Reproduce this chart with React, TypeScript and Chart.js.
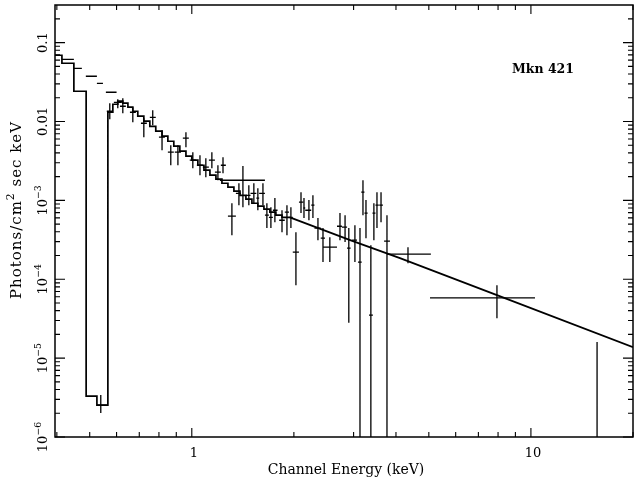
import React, { useEffect, useRef } from "react";
import { Chart, registerables } from "chart.js";

Chart.register(...registerables);

// ---- Axis ranges and tick labels ----
const xMin = 0.395;
const xMax = 20;
const yMin = 1e-6;
const yMax = 0.3;
const xTickValues = [1, 10];
const xTickLabels = ["1", "10"];
const yTickValues = [0.1, 0.01, 1e-3, 1e-4, 1e-5, 1e-6];
const yTickBase = ["0.1", "0.01", "10", "10", "10", "10"];
const yTickSup = ["", "", "\u22123", "\u22124", "\u22125", "\u22126"];

// ---- Folded model: stepped histogram (bin edges keV, values photons/cm^2/s/keV) ----
const modelEdges = [
  0.395, 0.414, 0.449, 0.488, 0.525, 0.5656, 0.585, 0.605, 0.626, 0.648, 0.67,
  0.693, 0.722, 0.752, 0.783, 0.817, 0.85, 0.885, 0.922, 0.961, 1.0, 1.042,
  1.086, 1.131, 1.178, 1.227, 1.278, 1.331, 1.387, 1.444, 1.504, 1.566, 1.632,
  1.699, 1.77, 1.845, 1.946,
];
const modelValues = [
  0.0692, 0.0548, 0.0242, 3.3e-6, 2.54e-6, 0.0131, 0.01656, 0.0181, 0.0171,
  0.0152, 0.0135, 0.0117, 0.0101, 0.0087, 0.00753, 0.00652, 0.00562, 0.00486,
  0.0042, 0.00363, 0.00324, 0.00279, 0.00242, 0.00209, 0.00186, 0.00165,
  0.00147, 0.00131, 0.00116, 0.00104, 0.00092, 0.000845, 0.000774, 0.00071,
  0.00065, 0.00061,
];
// high-energy part of the model (fine bins, drawn as a line)
const modelHiE = [1.946, 2.93, 4.11, 7.94, 20.0];
const modelHiF = [0.00061, 0.000313, 0.000185, 6.3e-5, 1.38e-5];

// ---- Horizontal-only data bins at low energy ----
const dashELo = [0.414, 0.449, 0.487, 0.525, 0.558];
const dashEHi = [0.449, 0.474, 0.525, 0.547, 0.6];
const dashF = [0.0615, 0.0473, 0.0375, 0.0305, 0.0235];

// ---- Data points with error bars ----
const dataE = [
  0.539, 0.573, 0.605, 0.626, 0.67, 0.722, 0.767, 0.817, 0.867, 0.91, 0.961,
  1.007, 1.057, 1.1, 1.146, 1.194, 1.236, 1.313, 1.415, 1.377, 1.473, 1.524,
  1.566, 1.621, 1.665, 1.711, 1.758, 1.845, 1.908, 1.96, 2.028, 2.099, 2.142,
  2.215, 2.276, 2.355, 2.437, 2.553, 2.735, 2.831, 2.904, 3.027, 3.133, 3.197,
  3.263, 3.373, 3.443, 3.516, 3.614, 3.763, 4.34, 7.94, 15.67,
];
const dataF = [
  2.54e-6, 0.0135, 0.0175, 0.0156, 0.0131, 0.0095, 0.0113, 0.00632, 0.00408,
  0.00408, 0.00614, 0.00324, 0.00279, 0.00264, 0.00324, 0.00228, 0.00279,
  0.00063, 0.0018, 0.00123, 0.00116, 0.00123, 0.00107, 0.00123, 0.00065,
  0.00061, 0.00075, 0.00056, 0.00071, 0.00061, 0.000221, 0.00095, 0.0008,
  0.00075, 0.00087, 0.000445, 0.000332, 0.000255, 0.00047, 0.000458, 0.000248,
  0.000313, 0.000165, 0.00127, 0.00069, 3.5e-5, 0.00069, 0.00087, 0.00087,
  0.000304, 0.000208, 5.8e-5, 5e-7,
];
const dataFLo = [
  2.01e-6, 0.0107, 0.0147, 0.0127, 0.0098, 0.00632, 0.00897, 0.00433, 0.00279,
  0.00279, 0.00472, 0.00256, 0.00209, 0.00197, 0.00256, 0.0018, 0.00221,
  0.000362, 0.00082, 0.00087, 0.00087, 0.00092, 0.00075, 0.00087, 0.000445,
  0.000445, 0.00053, 0.000395, 0.000362, 0.000445, 8.4e-5, 0.00069, 0.0006,
  0.00056, 0.0006, 0.000313, 0.000165, 0.000165, 0.000313, 0.000296, 2.8e-5,
  0.000165, 1e-7, 0.00065, 0.000332, 1e-7, 0.000313, 0.000445, 0.00053, 1e-7,
  0.00016, 3.2e-5, 1e-7,
];
const dataFHi = [
  3.4e-6, 0.0171, 0.0191, 0.0197, 0.0152, 0.011, 0.0139, 0.00776, 0.00501,
  0.00501, 0.00731, 0.00408, 0.00374, 0.00343, 0.00408, 0.00279, 0.00353,
  0.00092, 0.00272, 0.00165, 0.00156, 0.00165, 0.00143, 0.00165, 0.00092,
  0.00082, 0.00107, 0.00075, 0.00087, 0.00082, 0.000395, 0.00127, 0.00107,
  0.00101, 0.00116, 0.0006, 0.000445, 0.000342, 0.00069, 0.00065, 0.000445,
  0.000485, 0.000445, 0.0018, 0.00101, 0.00027, 0.00092, 0.00127, 0.00127,
  0.00065, 0.000255, 8.4e-5, 1.6e-5,
];
const dataELo = [
  0.525, 0.5615, 0.589, 0.614, 0.657, 0.708, 0.752, 0.8, 0.85, 0.891, 0.941,
  0.986, 1.035, 1.078, 1.123, 1.17, 1.218, 1.278, 1.21, 1.349, 1.444, 1.49,
  1.55, 1.58, 1.643, 1.688, 1.734, 1.81, 1.88, 1.935, 1.985, 2.07, 2.13, 2.16,
  2.25, 2.3, 2.4, 2.44, 2.68, 2.77, 2.87, 2.97, 3.09, 3.16, 3.23, 3.33, 3.41,
  3.48, 3.57, 3.69, 3.76, 5.04, 15.67,
];
const dataEHi = [
  0.5615, 0.585, 0.622, 0.639, 0.684, 0.737, 0.783, 0.833, 0.885, 0.929, 0.98,
  1.028, 1.078, 1.123, 1.17, 1.218, 1.26, 1.349, 1.643, 1.396, 1.49, 1.55,
  1.58, 1.643, 1.688, 1.734, 1.79, 1.88, 1.935, 1.985, 2.07, 2.13, 2.16, 2.25,
  2.3, 2.4, 2.47, 2.68, 2.77, 2.87, 2.94, 3.07, 3.17, 3.23, 3.3, 3.42, 3.48,
  3.56, 3.66, 3.84, 5.07, 10.28, 15.67,
];

const sourceName = "Mkn 421";
const xTitle = "Channel Energy (keV)";
const yTitleParts = ["Photons/cm", "2", " sec keV"];

const FONT = '"DejaVu Serif", "Liberation Serif", serif';

const errorBars = {
  id: "errorBars",
  afterDatasetsDraw(chart: any) {
    const { ctx, chartArea: a, scales } = chart;
    const xs = scales.x;
    const ys = scales.y;
    ctx.save();
    ctx.beginPath();
    ctx.rect(a.left, a.top, a.right - a.left, a.bottom - a.top);
    ctx.clip();
    ctx.strokeStyle = "#000";
    ctx.lineWidth = 1.3;
    ctx.beginPath();
    for (let i = 0; i < dataE.length; i++) {
      const px = xs.getPixelForValue(dataE[i]);
      const py = ys.getPixelForValue(dataF[i]);
      if (dataEHi[i] > dataELo[i]) {
        ctx.moveTo(xs.getPixelForValue(dataELo[i]), py);
        ctx.lineTo(xs.getPixelForValue(dataEHi[i]), py);
      }
      ctx.moveTo(px, ys.getPixelForValue(dataFHi[i]));
      ctx.lineTo(px, ys.getPixelForValue(dataFLo[i]));
    }
    for (let i = 0; i < dashF.length; i++) {
      const py = ys.getPixelForValue(dashF[i]);
      ctx.moveTo(xs.getPixelForValue(dashELo[i]), py);
      ctx.lineTo(xs.getPixelForValue(dashEHi[i]), py);
    }
    ctx.stroke();
    ctx.restore();
  },
};

function rotatedText(
  ctx: any,
  x: number,
  y: number,
  parts: string[],
  size: number,
  spacing = 0
) {
  // parts: [base, sup, base, sup, ...]
  ctx.save();
  ctx.translate(x, y);
  ctx.rotate(-Math.PI / 2);
  ctx.letterSpacing = `${spacing}px`;
  const widths: number[] = [];
  parts.forEach((p, i) => {
    ctx.font = `${i % 2 === 1 ? size * 0.72 : size}px ${FONT}`;
    widths.push(p ? ctx.measureText(p).width : 0);
  });
  const total = widths.reduce((s, w) => s + w, 0);
  let cx = -total / 2;
  ctx.textAlign = "left";
  ctx.textBaseline = "alphabetic";
  ctx.fillStyle = "#000";
  parts.forEach((p, i) => {
    const sup = i % 2 === 1;
    ctx.font = `${sup ? size * 0.72 : size}px ${FONT}`;
    if (p) ctx.fillText(p, cx, sup ? -size * 0.48 : 0);
    cx += widths[i];
  });
  ctx.restore();
}

const frameAndAxes = {
  id: "frameAndAxes",
  afterDraw(chart: any) {
    const { ctx, chartArea: a, scales } = chart;
    const xs = scales.x;
    const ys = scales.y;
    ctx.save();
    ctx.strokeStyle = "#000";
    ctx.lineWidth = 1.5;
    ctx.strokeRect(a.left, a.top, a.right - a.left, a.bottom - a.top);
    ctx.lineWidth = 1.1;
    ctx.beginPath();
    for (let d = -1; d <= 1; d++) {
      for (let m = 1; m <= 9; m++) {
        const v = m * Math.pow(10, d);
        if (v < xMin || v > xMax) continue;
        const px = xs.getPixelForValue(v);
        const len = m === 1 ? 9 : 5;
        ctx.moveTo(px, a.bottom);
        ctx.lineTo(px, a.bottom - len);
        ctx.moveTo(px, a.top);
        ctx.lineTo(px, a.top + len);
      }
    }
    for (let d = -6; d <= -1; d++) {
      for (let m = 1; m <= 9; m++) {
        const v = m * Math.pow(10, d);
        if (v < yMin * 0.999 || v > yMax) continue;
        const py = ys.getPixelForValue(v);
        const len = m === 1 ? 10 : 5;
        ctx.moveTo(a.left, py);
        ctx.lineTo(a.left + len, py);
        ctx.moveTo(a.right, py);
        ctx.lineTo(a.right - len, py);
      }
    }
    ctx.stroke();

    ctx.fillStyle = "#000";
    ctx.font = `13px ${FONT}`;
    ctx.textAlign = "center";
    ctx.textBaseline = "alphabetic";
    xTickValues.forEach((v, i) => {
      ctx.fillText(xTickLabels[i], xs.getPixelForValue(v) + 2, a.bottom + 20);
    });
    yTickValues.forEach((v, i) => {
      rotatedText(ctx, a.left - 8, ys.getPixelForValue(v), [yTickBase[i], yTickSup[i]], 13);
    });

    ctx.font = `14px ${FONT}`;
    ctx.textAlign = "center";
    ctx.fillText(xTitle, (a.left + a.right) / 2 + 2, a.bottom + 37);
    rotatedText(ctx, 21, 210, yTitleParts, 15, 1);

    ctx.font = `bold 12.5px ${FONT}`;
    ctx.fillText(sourceName, 543, 73);
    ctx.restore();
  },
};

export default function App() {
  const ref = useRef<HTMLCanvasElement | null>(null);
  useEffect(() => {
    if (!ref.current) return;
    const stepped = modelEdges.map((e, i) => ({
      x: e,
      y: modelValues[Math.min(i, modelValues.length - 1)],
    }));
    const hi = modelHiE.map((e, i) => ({ x: e, y: modelHiF[i] }));
    const chart = new Chart(ref.current, {
      type: "line",
      data: {
        datasets: [
          {
            data: stepped,
            stepped: "before",
            borderColor: "#000",
            borderWidth: 1.7,
            pointRadius: 0,
            fill: false,
          } as any,
          {
            data: hi,
            borderColor: "#000",
            borderWidth: 1.8,
            pointRadius: 0,
            tension: 0,
            fill: false,
          },
        ],
      },
      options: {
        animation: false,
        responsive: false,
        devicePixelRatio: 1,
        layout: { padding: { left: 55, right: 1, top: 5, bottom: 41 } },
        plugins: { legend: { display: false }, tooltip: { enabled: false } },
        scales: {
          x: {
            type: "logarithmic",
            min: xMin,
            max: xMax,
            ticks: { display: false },
            grid: { display: false },
            border: { display: false },
            afterFit: (s: any) => {
              s.height = 0;
            },
          },
          y: {
            type: "logarithmic",
            min: yMin,
            max: yMax,
            ticks: { display: false },
            grid: { display: false },
            border: { display: false },
            afterFit: (s: any) => {
              s.width = 0;
            },
          },
        },
      },
      plugins: [errorBars, frameAndAxes],
    });
    return () => chart.destroy();
  }, []);
  return (
    <div style={{ position: "fixed", left: 0, top: 0, width: 634, height: 478, background: "#fff" }}>
      <canvas ref={ref} width={634} height={478} style={{ display: "block" }} />
    </div>
  );
}
